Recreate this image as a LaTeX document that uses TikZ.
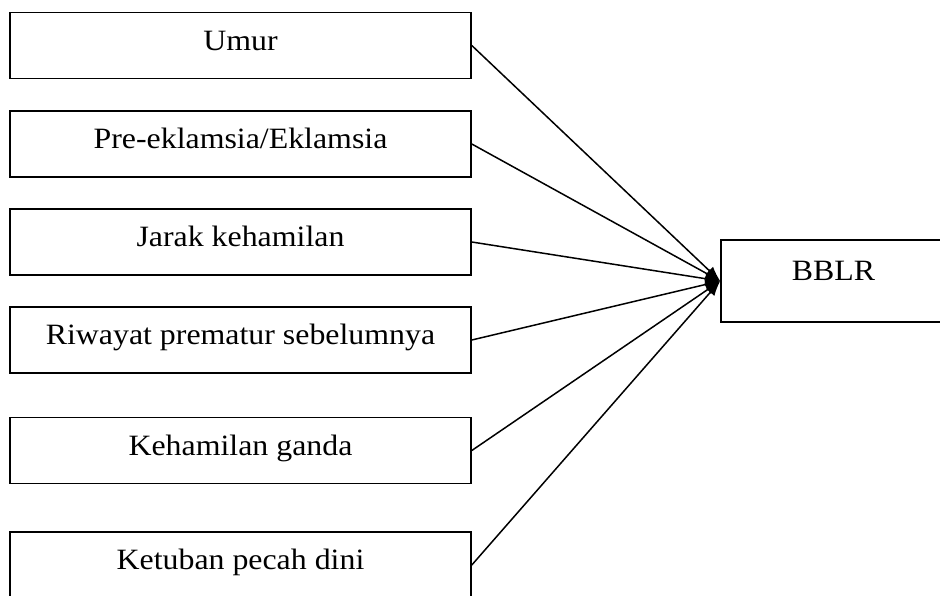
\documentclass[tikz,border=0pt]{standalone}
\usepackage{fontspec}
\setmainfont{Liberation Serif}[FakeStretch=1.08]
\usetikzlibrary{positioning,arrows.meta}

\begin{document}
\begin{tikzpicture}[x=1pt, y=-1pt,
  font=\fontsize{29.5}{34}\selectfont,
  factor/.style={draw, line width=1.6pt, minimum width=461pt, minimum height=66pt,
                 text height=20pt, text depth=11pt, inner sep=0pt, align=center},
  outcome/.style={draw, line width=1.6pt, minimum width=225pt, minimum height=82pt,
                  text height=20pt, text depth=21pt, inner sep=0pt, align=center},
  arr/.style={-{Latex[length=15pt,width=11pt]}, line width=1.5pt, draw=black}]

  \useasboundingbox (0,0) rectangle (940,595);

  % Factor boxes (top to bottom)
  \node[factor] (F1) at (240.5,45.5)  {Umur};
  \node[factor] (F2) at (240.5,144)   {Pre-eklamsia/Eklamsia};
  \node[factor] (F3) at (240.5,242)   {Jarak kehamilan};
  \node[factor] (F4) at (240.5,340)   {Riwayat prematur sebelumnya};
  \node[factor] (F5) at (240.5,450.5) {Kehamilan ganda};
  \node[factor] (F6) at (240.5,565)   {Ketuban pecah dini};

  % Outcome box
  \node[outcome] (BB) at (833.5,281) {BBLR};

  % Arrows into the outcome
  \draw[arr] (F1.east) to (BB.west);
  \draw[arr] (F2.east) to (BB.west);
  \draw[arr] (F3.east) to (BB.west);
  \draw[arr] (F4.east) to (BB.west);
  \draw[arr] (F5.east) to (BB.west);
  \draw[arr] (F6.east) to (BB.west);
\end{tikzpicture}
\end{document}
